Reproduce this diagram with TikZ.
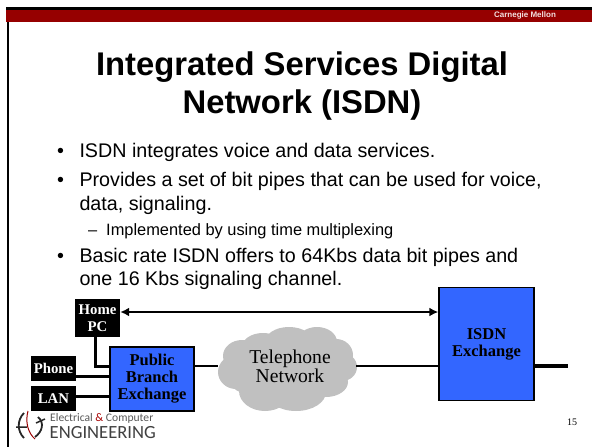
\documentclass[tikz,border=0pt]{standalone}
\usepackage{fontspec}
\setmainfont{Liberation Sans}
\newfontfamily\serifb{Liberation Serif}
\newfontfamily\logofont{Carlito}
\usetikzlibrary{arrows.meta}
\definecolor{hdr}{RGB}{150,0,0}
\definecolor{boxblue}{RGB}{51,102,255}
\definecolor{cloudgrey}{RGB}{192,192,192}
\tikzset{
 px/.style={x=1pt,y=-1pt},
 blk/.style={fill=black,text=white,font=\serifb\bfseries\fontsize{14.8}{17}\selectfont,align=center,inner sep=0pt,anchor=center},
 exch/.style={fill=boxblue,draw=black,line width=1.4pt,font=\serifb\bfseries\fontsize{16.5}{17}\selectfont,align=center,inner sep=0pt,anchor=center},
 bulleted/.style={anchor=base west,inner sep=0pt,font=\fontsize{19.7}{23}\selectfont},
 subtext/.style={anchor=base west,inner sep=0pt,font=\fontsize{16.4}{19}\selectfont},
 titletxt/.style={anchor=base,inner sep=0pt,font=\bfseries\fontsize{32.8}{38}\selectfont},
 wire/.style={draw=black,line width=#1},
}
\begin{document}
\begin{tikzpicture}[px]
\useasboundingbox (0,0) rectangle (592,447);
\fill[white] (0,0) rectangle (592,447);
% frame and header
\fill[hdr] (6,10) rectangle (592,22);
\fill[black] (6,7) rectangle (592,10);
\fill[black] (6.5,22) rectangle (9,447);
\node[anchor=center,inner sep=0pt,text=white!88!hdr,font=\bfseries\fontsize{8}{9}\selectfont] (brand) at (525,15.5) {Carnegie Mellon};
% title
\node[titletxt] (t1) at (302,75) {Integrated Services Digital};
\node[titletxt] (t2) at (302,113) {Network (ISDN)};
% bullets
\node[bulleted] (b1m) at (57,157) {•};
\node[bulleted] (b1) at (79.3,157) {ISDN integrates voice and data services.};
\node[bulleted] (b2m) at (57,186) {•};
\node[bulleted] (b2) at (79.3,186) {Provides a set of bit pipes that can be used for voice,};
\node[bulleted] (b2b) at (79.3,210) {data, signaling.};
\node[subtext] (s1m) at (88,235) {–};
\node[subtext] (s1) at (106,235) {Implemented by using time multiplexing};
\node[bulleted] (b3m) at (57,262) {•};
\node[bulleted] (b3) at (79.3,262) {Basic rate ISDN offers to 64Kbs data bit pipes and};
\node[bulleted] (b3b) at (79.3,285) {one 16 Kbs signaling channel.};
% cloud
\fill[cloudgrey] (254,368) ellipse (31 and 27)
 (236,372) ellipse (18 and 17)
 (242,356) ellipse (19 and 16)
 (263,347) ellipse (21 and 14)
 (289,342) ellipse (24 and 15)
 (317,342) ellipse (20 and 15)
 (336,355) ellipse (17 and 16)
 (342,367) ellipse (15 and 14)
 (326,382) ellipse (22 and 15)
 (296,392) ellipse (30 and 19)
 (265,391) ellipse (26 and 20)
 (288,368) ellipse (50 and 28);
\node[inner sep=0pt,align=center,font=\serifb\fontsize{19.6}{19}\selectfont] (cloud) at (290,366.5) {Telephone\\Network};
\coordinate (cloudW) at (218,366);
\coordinate (cloudE) at (356,366);
% boxes
\node[blk,minimum width=45pt,minimum height=38pt] (pc) at (97.5,318) {Home\\PC};
\node[blk,minimum width=45pt,minimum height=25pt] (phone) at (53.5,368.5) {Phone};
\node[blk,minimum width=45pt,minimum height=25pt] (lan) at (53.5,398.5) {LAN};
\node[exch,minimum width=84pt,minimum height=64pt] (pbx) at (152,379) {Public\\Branch\\Exchange};
\node[exch,minimum width=95pt,minimum height=113.5pt] (isdn) at (486.5,344) {};
\node[inner sep=0pt,align=center,font=\serifb\bfseries\fontsize{16.5}{17}\selectfont] (isdnl) at (486.5,344) {ISDN\\Exchange};
\coordinate (outR) at (568,366);
% connectors
\draw[wire=3pt] (pc.south -| 95.7,0) |- (pbx.west |- 0,366);
\draw[wire=3pt] (phone.east |- 0,376) -- (pbx.west |- 0,376);
\draw[wire=3pt] (lan.east |- 0,396) -- (pbx.west |- 0,396);
\draw[wire=2pt] (pbx.east |- 0,366) -- (cloudW);
\draw[wire=2pt] (cloudE) -- (isdn.west |- 0,366);
\draw[wire=4pt] (isdn.east |- 0,366) -- (outR);
\draw[wire=2.2pt,{Latex[length=9pt,width=9pt]}-{Latex[length=9pt,width=9pt]}] (pc.east |- 0,312) -- (isdn.west |- 0,312);
% logo
\draw[black!85,line width=1.8pt] (24,413) .. controls (17,420) and (17,431) .. (24,438);
\draw[black!85,line width=1.8pt] (38,417) .. controls (45,423) and (42,432) .. (35,437);
\draw[black!85,line width=1.5pt] (16,427) -- (27,427) (36,423) -- (45,419);
\draw[red!60!black,line width=1pt] (28,411) .. controls (25,422) and (28,433) .. (35,439);
\node[anchor=base west,inner sep=0pt,text=black!65,font=\logofont\fontsize{11.6}{12}\selectfont] (lg1) at (50,421.5) {Electrical \textcolor{red!65!black}{\&} Computer};
\node[anchor=base west,inner sep=0pt,text=black!75,font=\logofont\fontsize{18.6}{19}\selectfont] (lg2) at (49.5,438) {ENGINEERING};
\node[anchor=base,inner sep=0pt,font=\serifb\fontsize{10}{11}\selectfont] (pg) at (572,425) {15};
\end{tikzpicture}
\end{document}
